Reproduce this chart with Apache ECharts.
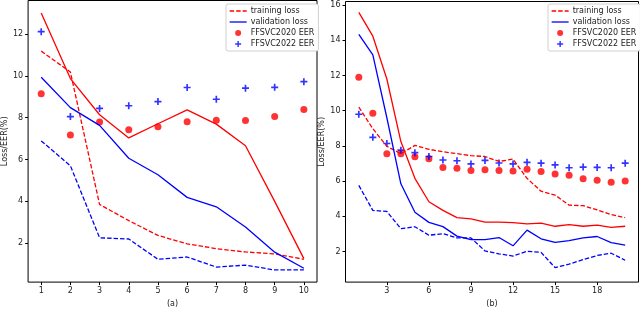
<!DOCTYPE html>
<html><head><meta charset="utf-8">
<script src="https://cdn.jsdelivr.net/npm/echarts@6/dist/echarts.min.js"></script>
<style>html,body{margin:0;padding:0;background:#fff}#c{width:640px;height:313px}</style>
</head><body><div id="c"></div>
<script>
// ---- Data: panel (a) ----
const epochsA = [1,2,3,4,5,6,7,8,9,10];
const aTrainLoss   = [11.18,10.18,3.85,3.08,2.37,1.97,1.74,1.58,1.49,1.23];
const aValidLoss   = [9.93,8.48,7.63,6.06,5.27,4.19,3.74,2.77,1.57,0.80];
const aRedSolid    = [13.0,9.87,8.14,7.03,7.71,8.37,7.69,6.66,4.0,1.26];
const aBlueDashed  = [6.89,5.70,2.26,2.20,1.23,1.34,0.86,0.95,0.72,0.72];
const aEER2020     = [9.14,7.17,7.79,7.42,7.57,7.80,7.88,7.87,8.05,8.39];
const aEER2022     = [12.11,8.05,8.44,8.57,8.77,9.44,8.88,9.41,9.45,9.72];
const aXTicks = [1,2,3,4,5,6,7,8,9,10];
const aYTicks = [2,4,6,8,10,12];

// ---- Data: panel (b) ----
const epochsB = [1,2,3,4,5,6,7,8,9,10,11,12,13,14,15,16,17,18,19,20];
const bTrainLoss  = [10.2,8.98,7.98,7.56,8.03,7.81,7.67,7.56,7.45,7.40,7.12,7.25,6.16,5.43,5.21,4.64,4.61,4.37,4.10,3.93];
const bValidLoss  = [14.34,13.17,9.6,5.85,4.24,3.66,3.42,2.88,2.68,2.68,2.80,2.33,3.22,2.73,2.53,2.62,2.78,2.86,2.51,2.37];
const bRedSolid   = [15.58,14.23,11.8,8.25,6.16,4.83,4.34,3.93,3.86,3.68,3.68,3.65,3.57,3.62,3.44,3.53,3.44,3.51,3.38,3.44];
const bBlueDashed = [5.76,4.34,4.28,3.30,3.41,2.93,3.02,2.78,2.78,2.04,1.87,1.75,2.02,1.96,1.09,1.29,1.55,1.78,1.91,1.51];
const bEER2020    = [11.9,9.86,7.56,7.56,7.38,7.27,6.78,6.74,6.61,6.65,6.61,6.58,6.67,6.55,6.41,6.34,6.14,6.05,5.94,6.01];
const bEER2022    = [9.80,8.49,8.14,7.76,7.62,7.40,7.20,7.16,6.98,7.18,7.03,6.98,7.07,7.02,6.92,6.76,6.80,6.78,6.76,7.02];
const bXTicks = [3,6,9,12,15,18];
const bYTicks = [2,4,6,8,10,12,14,16];

const names = ['training loss','validation loss','FFSVC2020 EER','FFSVC2022 EER'];
const RED = '#ff0000', BLUE = '#0000ff';
const PLUS = 'path://M3.8,0h2.4v3.8h3.8v2.4h-3.8v3.8h-2.4v-3.8h-3.8v-2.4h3.8z';
const FONT = 'DejaVu Sans';

const pair = (xs, ys) => xs.map((x,i)=>[x, ys[i]]);

function lineSeries(name, xs, ys, color, dashed, idx) {
  return {type:'line', name, xAxisIndex:idx, yAxisIndex:idx, data:pair(xs,ys),
    symbol:'none', showSymbol:false, animation:false, silent:true,
    lineStyle:{color, width:1.3, type: dashed ? [4.5,2] : 'solid'},
    itemStyle:{color}};
}
function scatterSeries(name, xs, ys, color, sym, size, idx) {
  return {type:'scatter', name, xAxisIndex:idx, yAxisIndex:idx, data:pair(xs,ys),
    symbol:sym, symbolSize:size, animation:false, silent:true,
    itemStyle:{color}};
}
function xAxis(idx, min, max, ticks, name) {
  return {type:'value', gridIndex:idx, min, max,
    name, nameLocation:'middle', nameGap:16,
    nameTextStyle:{fontFamily:FONT, fontSize:8, color:'#222'},
    axisLine:{show:false}, splitLine:{show:false},
    axisTick:{show:true, length:3, inside:false, customValues:ticks, lineStyle:{color:'#000'}},
    axisLabel:{customValues:ticks, fontFamily:FONT, fontSize:8, color:'#222', margin:5}};
}
function yAxis(idx, min, max, ticks, name) {
  return {type:'value', gridIndex:idx, min, max,
    name, nameLocation:'middle', nameGap:13, nameRotate:90,
    nameTextStyle:{fontFamily:FONT, fontSize:8, color:'#222'},
    axisLine:{show:false}, splitLine:{show:false},
    axisTick:{show:true, length:3, inside:false, customValues:ticks, lineStyle:{color:'#000'}},
    axisLabel:{customValues:ticks, fontFamily:FONT, fontSize:8, color:'#222', margin:5}};
}
function legend(left) {
  const noSym = {opacity:0};
  return {orient:'vertical', left, top:4, data:[
      {name:names[0], itemStyle:noSym, lineStyle:{color:RED, type:[4.5,2], width:1.3}},
      {name:names[1], itemStyle:noSym, lineStyle:{color:BLUE, type:'solid', width:1.3}},
      {name:names[2], icon:'circle'},{name:names[3], icon:PLUS}],
    itemWidth:17, itemHeight:6, itemGap:3, padding:[3,4,3,3],
    backgroundColor:'#fff', borderColor:'#d0d0d0', borderWidth:1, borderRadius:2,
    textStyle:{fontFamily:FONT, fontSize:8, color:'#222', padding:[0,0,0,-1]}, selectedMode:false};
}

const chart = echarts.init(document.getElementById('c'), null, {renderer:'canvas'});
chart.setOption({
  backgroundColor:'#fff',
  animation:false,
  grid:[
    {left:23.5, top:0.5, width:293.5, height:290, show:true, borderColor:'#000', borderWidth:1, backgroundColor:'transparent'},
    {left:345.5, top:1.5, width:293, height:290.5, show:true, borderColor:'#000', borderWidth:1, backgroundColor:'transparent'}
  ],
  legend:[legend(226), legend(548)],
  xAxis:[xAxis(0,0.55,10.45,aXTicks,'(a)'), xAxis(1,0.05,20.95,bXTicks,'(b)')],
  yAxis:[yAxis(0,0.14,13.6,aYTicks,'Loss/EER(%)'), yAxis(1,0.27,16.2,bYTicks,'Loss/EER(%)')],
  series:[
    lineSeries(names[0], epochsA, aTrainLoss, RED, true, 0),
    lineSeries(names[1], epochsA, aValidLoss, BLUE, false, 0),
    lineSeries('train-solid-a', epochsA, aRedSolid, RED, false, 0),
    lineSeries('valid-dashed-a', epochsA, aBlueDashed, BLUE, true, 0),
    scatterSeries(names[2], epochsA, aEER2020, RED, 'circle', 7, 0),
    scatterSeries(names[3], epochsA, aEER2022, BLUE, PLUS, 7, 0),
    lineSeries(names[0], epochsB, bTrainLoss, RED, true, 1),
    lineSeries(names[1], epochsB, bValidLoss, BLUE, false, 1),
    lineSeries('train-solid-b', epochsB, bRedSolid, RED, false, 1),
    lineSeries('valid-dashed-b', epochsB, bBlueDashed, BLUE, true, 1),
    scatterSeries(names[2], epochsB, bEER2020, RED, 'circle', 7, 1),
    scatterSeries(names[3], epochsB, bEER2022, BLUE, PLUS, 7, 1)
  ]
});
</script></body></html>
